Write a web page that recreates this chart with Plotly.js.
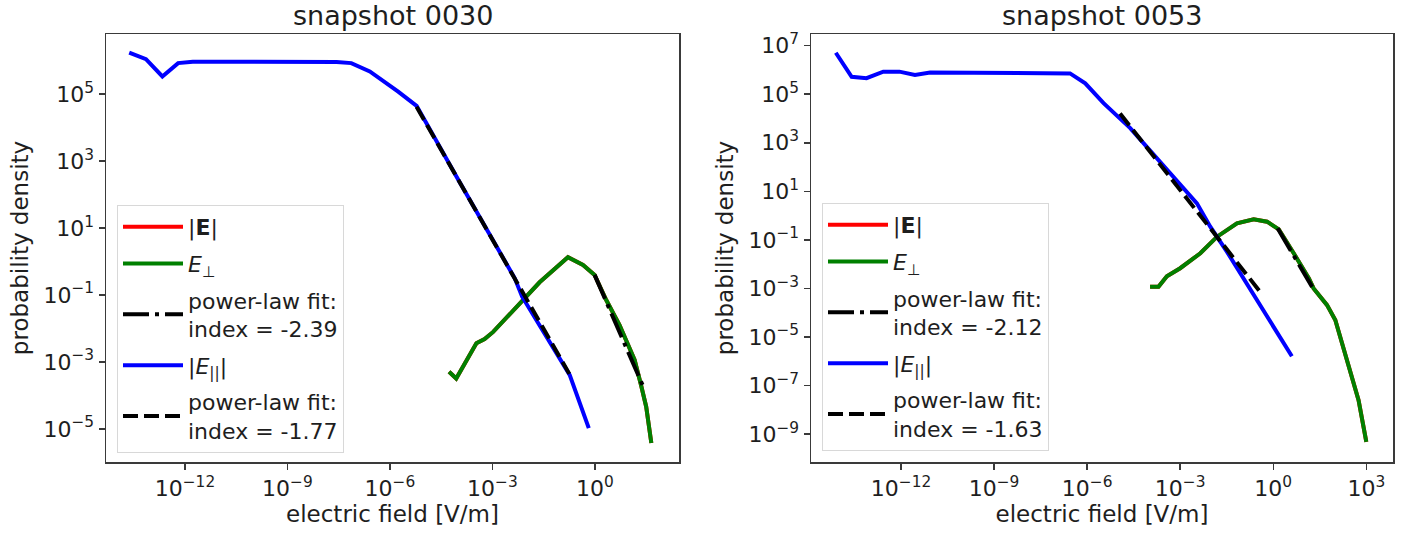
<!DOCTYPE html>
<html>
<head>
<meta charset="utf-8">
<script src="https://cdn.plot.ly/plotly-3.0.1.min.js"></script>
<style>html,body{margin:0;padding:0;background:#fff;}#chart{width:1414px;height:536px;}</style>
</head>
<body>
<div id="chart"></div>
<script>
// ---------- snapshot 0030 (left) ----------
const s30_parE   = [2.34e-14, 7.24e-14, 2.19e-13, 6.31e-13, 1.70e-12, 3.16e-11, 1.0e-9, 2.75e-8, 7.41e-8, 2.57e-7, 1.74e-6, 6.03e-6, 1.0e-4, 1.0e-3, 4.47e-3, 7.41e-3, 0.182, 0.66];
const s30_parP   = [1.74e6, 1.12e6, 3.39e5, 8.51e5, 9.33e5, 9.3e5, 9.3e5, 9.2e5, 8.5e5, 4.8e5, 1.2e5, 4.5e4, 2.8e2, 4.5, 0.32, 8.9e-2, 4.1e-4, 1.05e-5];
const s30_perpE  = [5.37e-5, 8.71e-5, 3.39e-4, 5.89e-4, 1.05e-3, 2.4e-2, 0.162, 0.447, 0.977, 2.14, 5.25, 14.5, 22.4, 31.6, 44.7];
const s30_perpP  = [5.1e-4, 3.2e-4, 3.6e-3, 4.8e-3, 7.9e-3, 0.24, 1.35, 0.79, 0.40, 7.1e-2, 1.26e-2, 1.15e-3, 2.0e-4, 4.6e-5, 3.8e-6];
const s30_magE   = s30_perpE;   // |E| coincides with E_perp (hidden beneath it)
const s30_magP   = s30_perpP;
const s30_fitPerpE = [0.977, 28.2];
const s30_fitPerpP = [0.40, 1.5e-4];
const s30_fitParE  = [6.0e-6, 0.178];
const s30_fitParP  = [4.2e4, 4.4e-4];
const s30_idxPerp = "-2.39";
const s30_idxPar  = "-1.77";

// ---------- snapshot 0053 (right) ----------
const s53_parE   = [7.94e-15, 2.57e-14, 7.76e-14, 2.69e-13, 8.91e-13, 2.82e-12, 8.71e-12, 1.0e-9, 2.82e-7, 8.71e-7, 3.39e-6, 2.45e-5, 3.47e-3, 9.33e-3, 3.24e-2, 3.98];
const s53_parP   = [5.1e6, 5.2e5, 4.6e5, 8.5e5, 8.5e5, 6.2e5, 7.8e5, 7.8e5, 7.2e5, 2.8e5, 4.3e4, 4.0e3, 3.2, 0.35, 3.2e-2, 1.6e-6];
const s53_perpE  = [1.07e-4, 2.0e-4, 3.72e-4, 1.0e-3, 4.47e-3, 1.55e-2, 6.76e-2, 0.234, 0.631, 1.51, 4.57, 14.1, 20, 53.7, 100, 186, 562, 1000];
const s53_perpP  = [1.17e-3, 1.17e-3, 3.2e-3, 6.8e-3, 2.8e-2, 0.135, 0.48, 0.71, 0.56, 0.27, 2.8e-2, 2.6e-3, 1.0e-3, 2.1e-4, 5.0e-5, 2.9e-6, 2.5e-8, 4.8e-10];
const s53_magE   = s53_perpE;
const s53_magP   = s53_perpP;
const s53_fitPerpE = [1.38, 20];
const s53_fitPerpP = [0.30, 9.1e-4];
const s53_fitParE  = [1.15e-5, 0.38];
const s53_fitParP  = [1.6e4, 7.2e-4];
const s53_idxPerp = "-2.12";
const s53_idxPar  = "-1.63";

// ---------- tick labels ----------
const xTickVals   = [1e-12, 1e-9, 1e-6, 1e-3, 1e0, 1e3];
const xTickText   = ["10<sup>\u221212</sup>", "10<sup>\u22129</sup>", "10<sup>\u22126</sup>", "10<sup>\u22123</sup>", "10<sup>0</sup>", "10<sup>3</sup>"];
const yTickVals   = [1e-9, 1e-7, 1e-5, 1e-3, 1e-1, 1e1, 1e3, 1e5, 1e7];
const yTickText   = ["10<sup>\u22129</sup>", "10<sup>\u22127</sup>", "10<sup>\u22125</sup>", "10<sup>\u22123</sup>", "10<sup>\u22121</sup>", "10<sup>1</sup>", "10<sup>3</sup>", "10<sup>5</sup>", "10<sup>7</sup>"];
const titles = ["snapshot 0030", "snapshot 0053"];

const LW = 4;
const dashDot = "26px,6px,4px,6px";
const dashed  = "15px,6px";

function panelTraces(xa, ya, leg, d, g) {
  return [
    {x: d.magE, y: d.magP, xaxis: xa, yaxis: ya, legend: leg, legendgroup: g+"a", mode: "lines", name: "|<b>E</b>|", line: {color: "#ff0000", width: LW}},
    {x: d.perpE, y: d.perpP, xaxis: xa, yaxis: ya, legend: leg, legendgroup: g+"b", mode: "lines", name: "<i>E</i><sub>\u22a5</sub>", line: {color: "#008000", width: LW}},
    {x: d.fitPerpE, y: d.fitPerpP, xaxis: xa, yaxis: ya, legend: leg, legendgroup: g+"c", mode: "lines", name: "power-law fit:<br>index = " + d.idxPerp, line: {color: "#000000", width: LW, dash: dashDot}},
    {x: d.parE, y: d.parP, xaxis: xa, yaxis: ya, legend: leg, legendgroup: g+"d", mode: "lines", name: "|<i>E</i><sub>||</sub>|", line: {color: "#0000ff", width: LW}},
    {x: d.fitParE, y: d.fitParP, xaxis: xa, yaxis: ya, legend: leg, legendgroup: g+"e", mode: "lines", name: "power-law fit:<br>index = " + d.idxPar, line: {color: "#000000", width: LW, dash: dashed}}
  ];
}

const traces = [].concat(
  panelTraces("x", "y", "legend", {magE: s30_magE, magP: s30_magP, perpE: s30_perpE, perpP: s30_perpP, fitPerpE: s30_fitPerpE, fitPerpP: s30_fitPerpP, parE: s30_parE, parP: s30_parP, fitParE: s30_fitParE, fitParP: s30_fitParP, idxPerp: s30_idxPerp, idxPar: s30_idxPar}, "L"),
  panelTraces("x2", "y2", "legend2", {magE: s53_magE, magP: s53_magP, perpE: s53_perpE, perpP: s53_perpP, fitPerpE: s53_fitPerpE, fitPerpP: s53_fitPerpP, parE: s53_parE, parP: s53_parP, fitParE: s53_fitParE, fitParP: s53_fitParP, idxPerp: s53_idxPerp, idxPar: s53_idxPar}, "R")
);

const W = 1414, H = 536;
const FONT = "DejaVu Sans, sans-serif";
const TXT = "#1e1e1e";
const axisCommon = {
  type: "log", showline: true, mirror: true, linecolor: "#3a3a3a", linewidth: 1.5,
  ticks: "outside", ticklen: 6, tickwidth: 1.5, tickcolor: "#3a3a3a",
  showgrid: false, zeroline: false, tickfont: {family: FONT, size: 22, color: TXT},
  tickmode: "array"
};
function xAxis(dom, range, anchor) {
  return Object.assign({}, axisCommon, {domain: dom, range: range, anchor: anchor,
    tickvals: xTickVals, ticktext: xTickText,
    title: {text: "electric field [V/m]", font: {family: FONT, size: 23, color: TXT}, standoff: 6}});
}
function yAxis(dom, range, anchor) {
  return Object.assign({}, axisCommon, {domain: dom, range: range, anchor: anchor,
    tickvals: yTickVals, ticktext: yTickText,
    title: {text: "probability density", font: {family: FONT, size: 23, color: TXT}, standoff: 8}});
}
const yDom = [(H - 462) / H, (H - 34) / H];
const legendCommon = {
  bgcolor: "rgba(255,255,255,0.85)", bordercolor: "#d8d8d8", borderwidth: 1,
  font: {family: FONT, size: 22, color: TXT}, traceorder: "grouped", tracegroupgap: 5,
  xanchor: "left", yanchor: "top", valign: "middle", itemwidth: 60
};

const layout = {
  width: W, height: H, margin: {l: 0, r: 0, t: 0, b: 0},
  paper_bgcolor: "#fff", plot_bgcolor: "#fff",
  font: {family: FONT, color: TXT},
  showlegend: true,
  xaxis: xAxis([106 / W, 679 / W], [-14.31, 2.46], "y"),
  yaxis: yAxis(yDom, [-5.99, 6.80], "x"),
  xaxis2: xAxis([811 / W, 1393 / W], [-14.90, 3.86], "y2"),
  yaxis2: yAxis(yDom, [-10.15, 7.48], "x2"),
  legend: Object.assign({}, legendCommon, {x: 117 / W, y: (H - 205) / H}),
  legend2: Object.assign({}, legendCommon, {x: 822 / W, y: (H - 203) / H}),
  annotations: [
    {text: titles[0], xref: "paper", yref: "paper", x: 392.5 / W, y: (H - 15) / H, xanchor: "center", yanchor: "middle", showarrow: false, font: {family: FONT, size: 27, color: TXT}},
    {text: titles[1], xref: "paper", yref: "paper", x: 1102 / W, y: (H - 15) / H, xanchor: "center", yanchor: "middle", showarrow: false, font: {family: FONT, size: 27, color: TXT}}
  ]
};

Plotly.newPlot("chart", traces, layout, {displayModeBar: false, staticPlot: true});
</script>
</body>
</html>
